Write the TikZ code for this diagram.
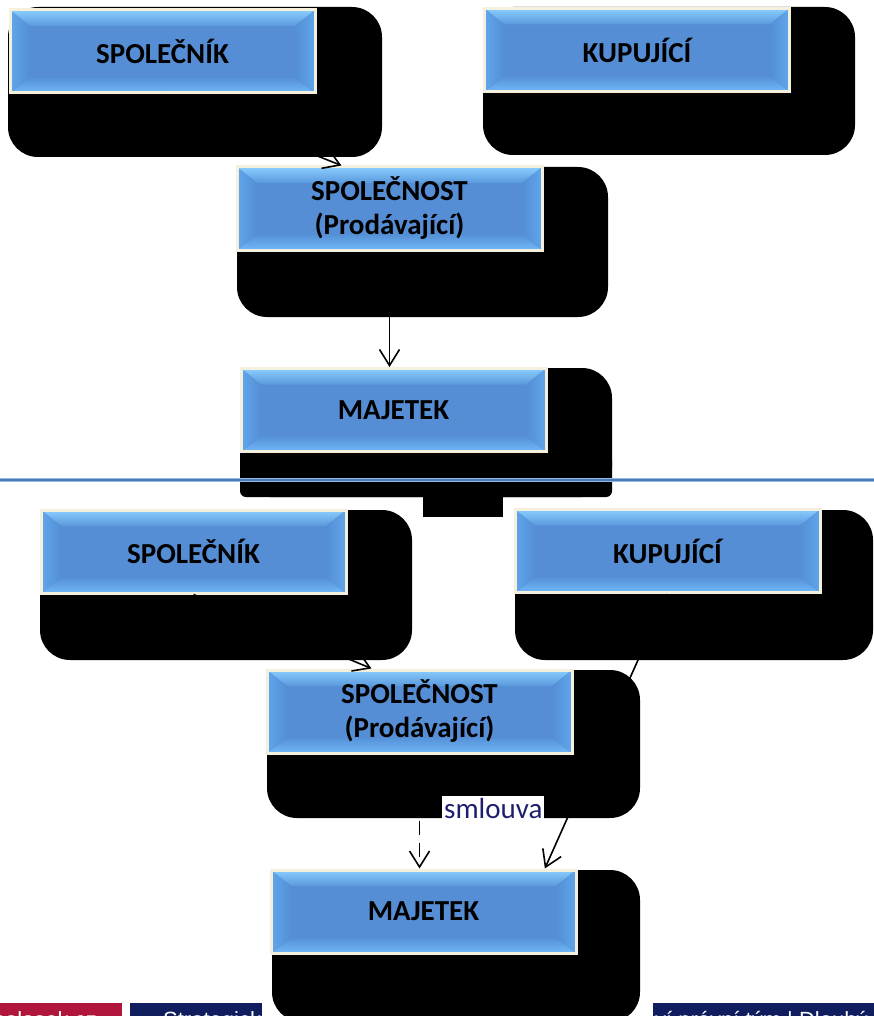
\documentclass[tikz,border=0pt]{standalone}
\usepackage{fontspec}
\setmainfont{Carlito}
\newfontfamily\footfont{Liberation Sans}
\usetikzlibrary{arrows.meta,calc}

\definecolor{face}{RGB}{85,142,213}
\definecolor{rim}{RGB}{245,240,222}
\definecolor{bvTopOut}{RGB}{138,206,255}
\definecolor{bvTopIn}{RGB}{90,152,220}
\definecolor{bvBotIn}{RGB}{86,146,216}
\definecolor{bvBotOut}{RGB}{112,184,248}
\definecolor{bvSideOut}{RGB}{96,166,236}
\definecolor{bvSideIn}{RGB}{84,142,212}
\definecolor{rule}{RGB}{74,126,187}
\definecolor{rulelight}{RGB}{150,185,228}
\definecolor{labelnavy}{RGB}{30,30,110}
\definecolor{footred}{RGB}{176,22,60}
\definecolor{footnavy}{RGB}{16,30,96}

\begin{document}
\begin{tikzpicture}[x=1pt,y=-1pt,
  bevelbox/.style={
    minimum width=305pt, minimum height=83pt, inner sep=0pt,
    draw=rim, line width=3pt, fill=face, text=black,
    font=\fontsize{29}{34}\selectfont\bfseries, align=center,
    path picture={
      \path (path picture bounding box.north west) coordinate (bNW)
            (path picture bounding box.north east) coordinate (bNE)
            (path picture bounding box.south east) coordinate (bSE)
            (path picture bounding box.south west) coordinate (bSW);
      \path ($(bNW)+(20pt,-16pt)$) coordinate (iNW)
            ($(bNE)+(-20pt,-16pt)$) coordinate (iNE)
            ($(bSE)+(-20pt,15pt)$) coordinate (iSE)
            ($(bSW)+(20pt,15pt)$) coordinate (iSW);
      \shade[top color=bvTopOut, bottom color=bvTopIn]
        (bNW) -- (bNE) -- (iNE) -- (iNW) -- cycle;
      \shade[top color=bvBotIn, bottom color=bvBotOut]
        (iSW) -- (iSE) -- (bSE) -- (bSW) -- cycle;
      \shade[left color=bvSideOut, right color=bvSideIn]
        (bNW) -- (iNW) -- (iSW) -- (bSW) -- cycle;
      \shade[left color=bvSideIn, right color=bvSideOut]
        (iNE) -- (bNE) -- (bSE) -- (iSE) -- cycle;
    }
  },
  blob/.style={fill=black, rounded corners=30pt},
  blobflat/.style={fill=black, rounded corners=6pt},
  link/.style={draw=black, line width=1.6pt,
    -{Straight Barb[length=16pt,width=20pt]}},
  foottext/.style={text=white, font=\footfont\fontsize{22}{26}\selectfont, inner sep=0pt},
]
\useasboundingbox (0,0) rectangle (874,1016);
\clip (0,0) rectangle (874,1016);

% footer strip
\fill[footred] (0,1003) rectangle (122,1030);
\fill[footnavy] (130,1003) rectangle (262,1030);
\fill[footnavy] (653,1003) rectangle (874,1030);
\node[foottext, anchor=base east] (web) at (97,1027) {bolasek.cz};
\begin{scope}
  \clip (130,1003) rectangle (262,1030);
  \node[foottext, anchor=base west] (mid) at (163,1027) {Strategické};
\end{scope}
\node[foottext, anchor=base west] (team) at (655,1027) {ví právní tým | Dlouhý};

% dark backdrops behind the boxes
\fill[blob] (8,7) rectangle (382,157);
\fill[blob] (483,7) rectangle (855,155);
\fill[blob] (237,167) rectangle (608,317);
\fill[blob] (240,368) rectangle (612,497);
\fill[blobflat] (240,455) rectangle (612,497);
\fill (423,490) rectangle (503,517);

\fill[blob] (40,510) rectangle (412,660);
\fill[blob] (515,510) rectangle (873,660);
\fill[blob] (267,670) rectangle (640,818);
\fill[blob] (272,870) rectangle (640,1022);

% separator between the two schemes
\draw[rulelight, line width=3.2pt] (0,480) -- (874,480);
\draw[rule, line width=1.4pt] (0,480) -- (874,480);

% upper scheme
\node[bevelbox] (a1) at (162.5,51.5) {SPOLEČNÍK};
\node[bevelbox] (b1) at (637,50) {KUPUJÍCÍ};
\node[bevelbox] (c1) at (389.5,208.5) {SPOLEČNOST\\(Prodávající)};
\node[bevelbox] (d1) at (393.5,410) {MAJETEK};

\draw[link] (a1.south) -- ($(c1.north west)!0.344!(c1.north east)$);
\draw[link] (c1.south) -- (c1.south |- d1.north);

% lower scheme
\node[bevelbox] (a2) at (193.5,551.5) {SPOLEČNÍK};
\node[bevelbox] (b2) at (667.5,551) {KUPUJÍCÍ};
\node[bevelbox] (c2) at (419.5,711.5) {SPOLEČNOST\\(Prodávající)};
\node[bevelbox] (d2) at (423.5,911.5) {MAJETEK};

\draw[link] (a2.south) -- ($(c2.north west)!0.344!(c2.north east)$);
\draw[link] (b2.south) -- ($(d2.north west)!0.894!(d2.north east)$);
\draw[link, dash pattern=on 14pt off 8pt] (c2.south) -- (c2.south |- d2.north);

\node[fill=white, inner sep=2pt, text=labelnavy,
      font=\fontsize{29}{34}\selectfont, anchor=base west] (deal) at (442,818) {smlouva};
\end{tikzpicture}
\end{document}
